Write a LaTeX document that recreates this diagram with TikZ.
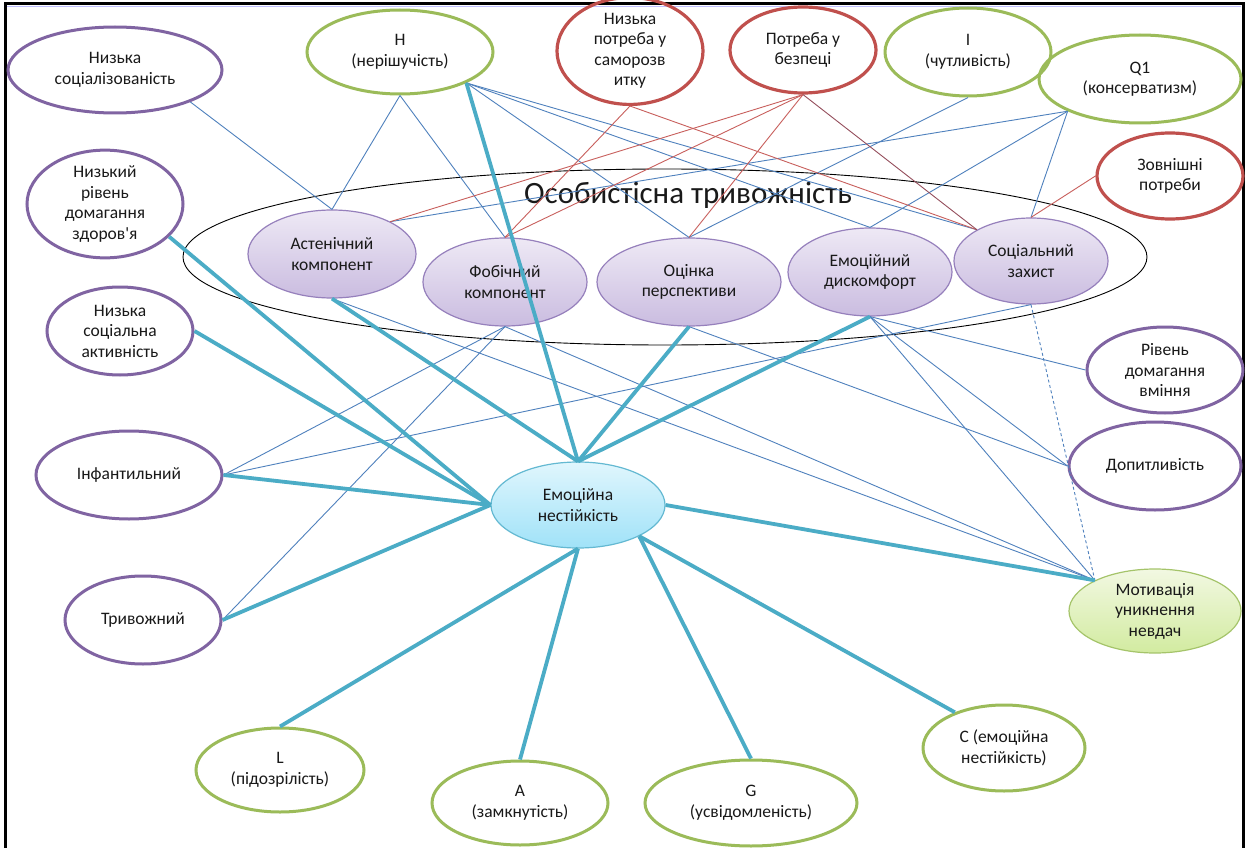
\documentclass[tikz,border=0pt]{standalone}
\usepackage{fontspec}
\setmainfont{Carlito}
\usetikzlibrary{shapes.geometric}
% palette
\definecolor{purpO}{RGB}{128,100,162}
\definecolor{grnO}{RGB}{155,187,89}
\definecolor{redO}{RGB}{192,80,77}
\definecolor{tealT}{RGB}{75,172,198}
\definecolor{blueT}{RGB}{79,129,189}
\definecolor{redT}{RGB}{200,95,92}
\definecolor{brownT}{RGB}{148,78,92}
\definecolor{compTop}{RGB}{238,233,245}
\definecolor{compBot}{RGB}{202,188,224}
\definecolor{compB}{RGB}{150,128,188}
\definecolor{enTop}{RGB}{224,246,253}
\definecolor{enBot}{RGB}{160,226,248}
\definecolor{enB}{RGB}{100,185,210}
\definecolor{motTop}{RGB}{242,248,226}
\definecolor{motBot}{RGB}{210,235,160}
\definecolor{motB}{RGB}{165,196,106}
\definecolor{ink}{RGB}{25,25,25}
\begin{document}
\begin{tikzpicture}[x=1pt,y=-1pt,
  ell/.style={ellipse, inner sep=0pt, align=center, text=ink,
              font=\fontsize{17.5}{20.5}\selectfont},
  sz/.style 2 args={minimum width=#1pt, minimum height=#2pt},
  pu/.style={ell, draw=purpO, line width=3pt},
  gr/.style={ell, draw=grnO, line width=3pt},
  rdn/.style={ell, draw=redO, line width=3.2pt},
  comp/.style={ell, draw=compB, line width=1.2pt, top color=compTop, bottom color=compBot},
  emo/.style={ell, draw=enB, line width=1.2pt, top color=enTop, bottom color=enBot},
  moti/.style={ell, draw=motB, line width=1.2pt, top color=motTop, bottom color=motBot},
  tk/.style={draw=tealT, line width=3.8pt},
  tn/.style={draw=blueT, line width=0.9pt},
  rl/.style={draw=redT, line width=0.9pt},
  bl/.style={draw=brownT, line width=0.9pt},
]
\useasboundingbox (0,0) rectangle (1248,848);
\fill[white] (0,0) rectangle (1248,848);

% frame
\draw[blue!25, line width=1pt] (7,6.5) -- (1241,6.5);
\draw[black, line width=3pt] (5,848) -- (5,3.5) -- (1243,3.5) -- (1243,848);

% personal anxiety block
\node[ellipse, draw=black, line width=0.9pt, sz={964}{176}] (big) at (665,257) {};
\node[font=\fontsize{31}{36}\selectfont, text=ink] (title) at (688,195) {Особистісна тривожність};

% outer factors
\node[pu, sz={214}{86}] (nsoc) at (115,70) {Низька\\соціалізованість};
\node[gr, sz={186}{84}] (H) at (400,52) {H\\(нерішучість)};
\node[rdn, sz={146}{88}] (npot) at (630,51) {Низька\\потреба у\\саморозв\\итку};
\node[rdn, sz={146}{86}] (bezp) at (803,50) {Потреба у\\безпеці};
\node[gr, sz={166}{88}] (I) at (968,52) {I\\(чутливість)};
\node[gr, sz={202}{88}] (Q1) at (1140,79) {Q1\\(консерватизм)};
\node[rdn, sz={146}{86}] (zovn) at (1170,176) {Зовнішні\\потреби};
\node[pu, sz={156}{88}] (nriv) at (105,204) {Низький\\рівень\\домагання\\здоров\textquotesingle я};

% components
\node[comp, sz={168}{88}] (ast) at (332,254) {Астенічний\\компонент};
\node[comp, sz={164}{88}] (fob) at (505,282) {Фобічний\\компонент};
\node[comp, sz={184}{88}] (ocin) at (689,282) {Оцінка\\перспективи};
\node[comp, sz={164}{88}] (ed) at (870,272) {Емоційний\\дискомфорт};
\node[comp, sz={154}{86}] (szah) at (1031,261) {Соціальний\\захист};

% left and right factors
\node[pu, sz={146}{88}] (nsa) at (120,331) {Низька\\соціальна\\активність};
\node[pu, sz={186}{88}] (inf) at (129,475) {Інфантильний};
\node[pu, sz={156}{88}] (tryv) at (143,620) {Тривожний};
\node[pu, sz={156}{86}] (rivv) at (1165,370) {Рівень\\домагання\\вміння};
\node[pu, sz={172}{88}] (dop) at (1155,466) {Допитливість};
\node[moti, sz={172}{84}] (mot) at (1155,611) {Мотивація\\уникнення\\невдач};

% centre
\node[emo, sz={174}{86}] (EN) at (578,505) {Емоційна\\нестійкість};

% bottom factors
\node[gr, sz={168}{84}] (L) at (280,770) {L\\(підозрілість)};
\node[gr, sz={176}{84}] (A) at (520,803) {A\\(замкнутість)};
\node[gr, sz={212}{86}] (G) at (751,803) {G\\(усвідомленість)};
\node[gr, sz={162}{86}] (C) at (1004,748) {C (емоційна\\нестійкість)};

% thin blue links
\draw[tn] (nsoc.-23) -- (ast.north);
\draw[tn] (H.south) -- (ast.north);
\draw[tn] (H.south) -- (fob.north);
\draw[tn] (H.-25) -- (ocin.north);
\draw[tn] (H.-25) -- (ed.north);
\draw[tn] (H.-25) -- (szah.150);
\draw[tn] (I.south) -- (ocin.north);
\draw[tn] (Q1.-156) -- (ast.29);
\draw[tn] (Q1.-156) -- (ed.north);
\draw[tn] (Q1.-156) -- (szah.north);
\draw[tn] (ast.south) -- (mot.153);
\draw[tn] (fob.south) -- (mot.153);
\draw[tn] (fob.south) -- (inf.east);
\draw[tn] (fob.south) -- (tryv.east);
\draw[tn] (ocin.south) -- (dop.west);
\draw[tn] (ed.south) -- (rivv.west);
\draw[tn] (ed.south) -- (dop.west);
\draw[tn] (ed.south) -- (mot.153);
\draw[tn] (szah.south) -- (inf.east);
\draw[tn, dash pattern=on 3pt off 2.5pt] (szah.south) -- (mot.153);

% red links
\draw[rl] (npot.south) -- (fob.north);
\draw[rl] (npot.south) -- (szah.150);
\draw[rl] (bezp.south) -- (ast.29);
\draw[rl] (bezp.south) -- (fob.north);
\draw[rl] (bezp.south) -- (ocin.north);
\draw[rl] (zovn.west) -- (szah.north);
\draw[bl] (bezp.south) -- (szah.150);

% thick links to the centre
\draw[tk] (nriv.-27) -- (EN.west);
\draw[tk] (nsa.east) -- (EN.west);
\draw[tk] (inf.east) -- (EN.west);
\draw[tk] (tryv.east) -- (EN.west);
\draw[tk] (ast.south) -- (EN.north);
\draw[tk] (H.-25) -- (EN.north);
\draw[tk] (ocin.south) -- (EN.north);
\draw[tk] (ed.south) -- (EN.north);
\draw[tk] (EN.east) -- (mot.153);
\draw[tk] (EN.south) -- (L.north);
\draw[tk] (EN.south) -- (A.north);
\draw[tk] (EN.-27) -- (G.north);
\draw[tk] (EN.-27) -- (C.144);
\end{tikzpicture}
\end{document}
